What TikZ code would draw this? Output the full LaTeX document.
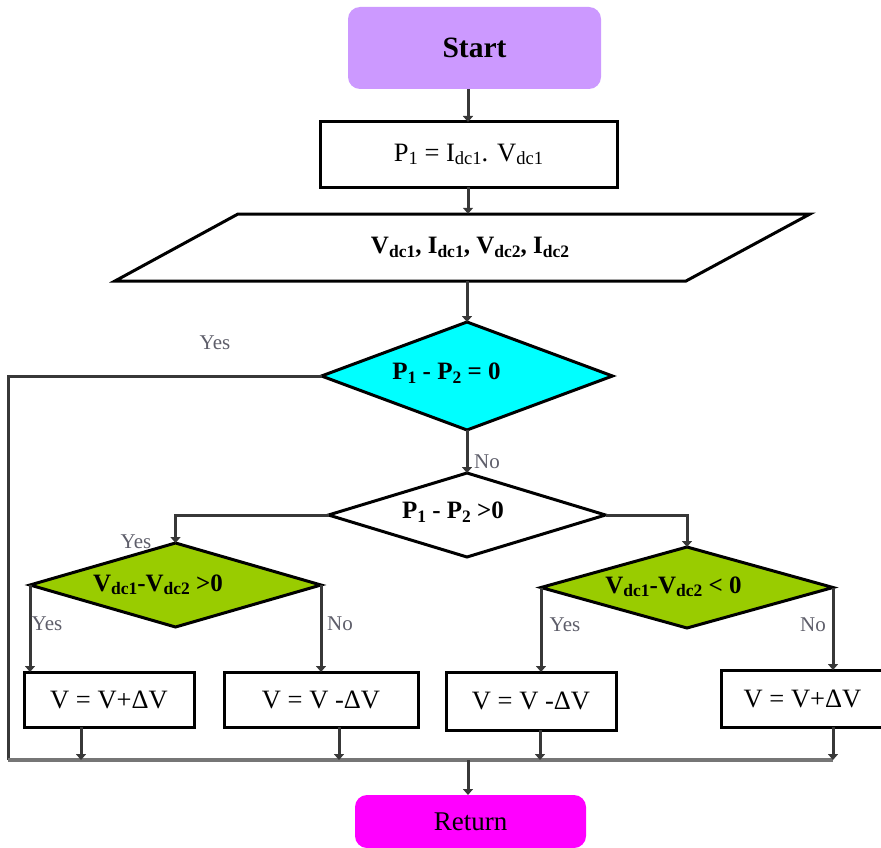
\documentclass[tikz,border=0pt]{standalone}
\usepackage{fontspec}
\setmainfont{Liberation Serif}
\usetikzlibrary{arrows.meta,shapes.geometric}
\newcommand\sbx[1]{\raisebox{-0.14em}{\scalebox{0.7}{#1}}}
\definecolor{lav}{HTML}{CC99FF}
\definecolor{cyanf}{HTML}{00FFFF}
\definecolor{grn}{HTML}{99CC00}
\definecolor{mag}{HTML}{FF00FF}
\definecolor{connc}{HTML}{383838}
\definecolor{busc}{HTML}{767676}
\definecolor{lbl}{HTML}{5E5E6A}
\begin{document}
\begin{tikzpicture}[x=1pt,y=-1pt,
 box/.style={draw=black,line width=3pt,fill=white,rectangle,inner sep=0pt,outer sep=0pt,font=\fontsize{26.5}{30}\selectfont},
 term/.style={rectangle,rounded corners=12pt,inner sep=0pt,outer sep=0pt},
 dia/.style={diamond,draw=black,line width=3pt,inner sep=0pt,outer sep=0pt},
 dtxt/.style={inner sep=0pt,font=\bfseries\fontsize{25}{28}\selectfont},
 conn/.style={draw=connc,line width=3pt},
 arr/.style={conn,-{Triangle[length=6pt,width=10pt]}},
 lab/.style={text=lbl,font=\fontsize{21}{24}\selectfont,inner sep=0pt}
]
\useasboundingbox (0,0) rectangle (881,848);

% terminals and boxes
\node[term,fill=lav,minimum width=253pt,minimum height=82pt,font=\bfseries\fontsize{29.5}{32}\selectfont] (start) at (474.5,48) {Start};
\node[box,minimum width=297pt,minimum height=65pt] (p1) at (468.5,154.5) {P\sbx{1} = I\sbx{dc1}. V\sbx{dc1}};
\draw[line width=3pt,fill=white,line join=miter] (115,281) -- (238,214) -- (810,214) -- (686,281) -- cycle;
\node[inner sep=0pt,minimum width=400pt,minimum height=67pt,font=\bfseries\fontsize{25}{28}\selectfont] (inp) at (470,247.5) {V\sbx{dc1}, I\sbx{dc1}, V\sbx{dc2}, I\sbx{dc2}};

% decisions
\node[dia,fill=cyanf,minimum width=291pt,minimum height=108pt] (d1) at (467,376) {};
\node[dtxt] (t1) at (446.5,373) {P\sbx{1} - P\sbx{2} = 0};
\node[dia,fill=white,minimum width=277pt,minimum height=84pt] (d2) at (467,515) {};
\node[dtxt] (t2) at (453,512) {P\sbx{1} - P\sbx{2} >0};
\node[dia,fill=grn,minimum width=291pt,minimum height=84pt] (g1) at (175.5,585) {};
\node[dtxt] (t3) at (158,585) {V\sbx{dc1}-V\sbx{dc2} >0};
\node[dia,fill=grn,minimum width=292pt,minimum height=81pt] (g2) at (687,587.5) {};
\node[dtxt] (t4) at (673.5,587) {V\sbx{dc1}-V\sbx{dc2} < 0};

% action boxes
\node[box,minimum width=170pt,minimum height=55pt] (b1) at (109,699.5) {V = V+ΔV};
\node[box,minimum width=194pt,minimum height=55pt] (b2) at (321,699.5) {V = V -ΔV};
\node[box,minimum width=170pt,minimum height=58pt] (b3) at (531,701) {V = V -ΔV};
\node[box,minimum width=163pt,minimum height=57pt] (b4) at (802.5,698.5) {V = V+ΔV};

\node[term,fill=mag,minimum width=231pt,minimum height=53pt,font=\fontsize{27}{30}\selectfont] (ret) at (470.5,821.5) {Return};

% coordinates
\coordinate (sp) at (468,0);
\coordinate (busL) at (8,760);
\coordinate (busR) at (833,760);
\coordinate (busM) at (468,760);
\coordinate (c1) at (81,760);
\coordinate (c2) at (339,760);
\coordinate (c3) at (540,760);
\coordinate (c4) at (833,760);

% connectors
\draw[arr] (start.south -| sp) -- (p1.north -| sp);
\draw[arr] (p1.south -| sp) -- (inp.north -| sp);
\draw[arr] (d1.north |- inp.south) -- (d1.north);
\draw[arr] (d1.south) -- (d2.north);
\draw[conn] (d1.west) -| (busL);
\draw[arr] (d2.west) -| (g1.north);
\draw[arr] (d2.east) -| (g2.north);
\draw[arr] (g1.west) -- (g1.west |- b1.north);
\draw[arr] (g1.east) -- (g1.east |- b2.north);
\draw[arr] (g2.west) -- (g2.west |- b3.north);
\draw[arr] (g2.east) -- (g2.east |- b4.north);
\draw[busc,line width=4pt] (busL) -- (busR);
\draw[arr] (b1.south -| c1) -- (c1);
\draw[arr] (b2.south -| c2) -- (c2);
\draw[arr] (b3.south -| c3) -- (c3);
\draw[arr] (b4.south -| c4) -- (c4);
\draw[arr] (busM) -- (ret.north -| busM);

% labels
\node[lab] (y1) at (215,343) {Yes};
\node[lab] (n1) at (487,462) {No};
\node[lab] (y2) at (136,542) {Yes};
\node[lab] (y3) at (47,624) {Yes};
\node[lab] (n2) at (340,624) {No};
\node[lab] (y4) at (565,625) {Yes};
\node[lab] (n3) at (813,625) {No};
\end{tikzpicture}
\end{document}
